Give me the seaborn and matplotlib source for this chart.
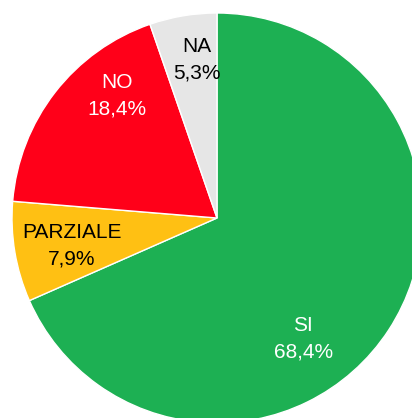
import matplotlib
matplotlib.use("Agg")
import matplotlib.pyplot as plt
import seaborn as sns

categories = ["SI", "PARZIALE", "NO", "NA"]
values = [68.4, 7.9, 18.4, 5.3]
labels_pct = ["68,4%", "7,9%", "18,4%", "5,3%"]
colors = ["#1DB053", "#FFC013", "#FF0019", "#E6E6E6"]
text_colors = ["white", "black", "white", "black"]
label_pos = [(0.42, -0.59), (-0.707, -0.137), (-0.488, 0.595), (-0.098, 0.771)]

sns.set_theme(style="white")
plt.rcParams['font.family'] = ['Liberation Sans', 'DejaVu Sans']

W, H, dpi = 412, 418, 100
fig = plt.figure(figsize=(W / dpi, H / dpi), dpi=dpi)
ax = fig.add_axes([0, 0, 1, 1])
R = 205.0
cx, cy = 217.0, 218.0
ax.pie(values, colors=colors, startangle=90, counterclock=False,
       radius=1.0, wedgeprops=dict(edgecolor="white", linewidth=1.0))
for cat, pct, tc, (x, y) in zip(categories, labels_pct, text_colors, label_pos):
    ax.text(x, y, f"{cat}\n{pct}", ha="center", va="center", color=tc,
            fontsize=15, linespacing=1.5)
ax.set_xlim(-cx / R, (W - cx) / R)
ax.set_ylim(-(H - cy) / R, cy / R)
ax.set_aspect("equal")
ax.axis("off")
fig.savefig("out.png", dpi=dpi, facecolor="white")
